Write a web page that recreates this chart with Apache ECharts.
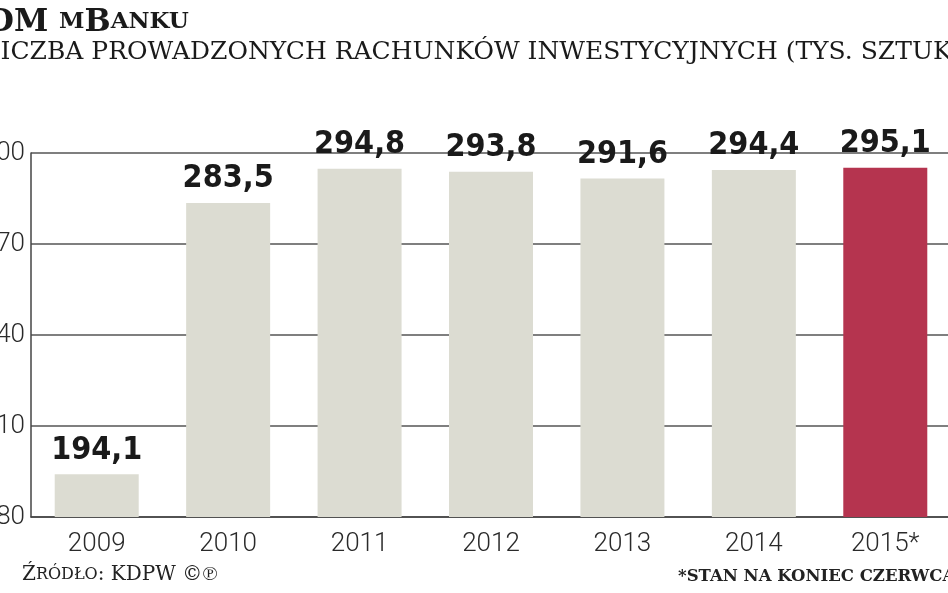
<!DOCTYPE html>
<html>
<head>
<meta charset="utf-8">
<script src="https://cdn.jsdelivr.net/npm/echarts@6/dist/echarts.min.js"></script>
<style>
html,body{margin:0;padding:0;background:#fff;}
#c{width:948px;height:593px;}
</style>
</head>
<body>
<div id="c"></div>
<script>
var categories = ['2009', '2010', '2011', '2012', '2013', '2014', '2015*'];
var values = [194.1, 283.5, 294.8, 293.8, 291.6, 294.4, 295.1];
var yTicks = [180, 210, 240, 270, 300];

var chart = echarts.init(document.getElementById('c'));
var numFont = '"DejaVu Sans Condensed", "DejaVu Sans", sans-serif';
var serifFont = '"DejaVu Serif", serif';

chart.setOption({
  backgroundColor: '#ffffff',
  animation: false,
  title: [{
    text: '{b|DM }{s|M}{b|B}{s|ANKU}',
    left: -18, top: 2,
    textStyle: {
      rich: {
        b: {fontFamily: serifFont, fontWeight: 'bold', fontSize: 31, color: '#1a1a1a'},
        s: {fontFamily: serifFont, fontWeight: 'bold', fontSize: 23, color: '#1a1a1a'}
      }
    }
  }, {
    text: 'LICZBA PROWADZONYCH RACHUNKÓW INWESTYCYJNYCH (TYS. SZTUK)',
    left: -21, top: 35,
    textStyle: {fontFamily: serifFont, fontWeight: 'normal', fontSize: 25, color: '#1a1a1a'}
  }],
  graphic: [{
    type: 'text', left: 22, top: 565,
    style: {
      text: '{b|Ź}{s|RÓDŁO}{b|: KDPW ©℗}',
      rich: {
        b: {fontFamily: serifFont, fontSize: 20, fill: '#222'},
        s: {fontFamily: serifFont, fontSize: 16, fill: '#222'}
      }
    }
  }, {
    type: 'text', left: 678, top: 568,
    style: {
      text: '*STAN NA KONIEC CZERWCA',
      fontFamily: serifFont, fontWeight: 'bold', fontSize: 16.5, fill: '#222'
    }
  }],
  grid: {left: 31, top: 153, width: 920, bottom: 76, containLabel: false, outerBoundsMode: 'none'},
  xAxis: {
    type: 'category',
    data: categories,
    axisLine: {show: true, lineStyle: {color: '#444', width: 1.5}},
    axisTick: {show: false},
    axisLabel: {fontFamily: 'Roboto', fontWeight: 300, fontSize: 26, color: '#2a2a2a', margin: 14}
  },
  yAxis: {
    type: 'value',
    min: yTicks[0], max: yTicks[yTicks.length - 1], interval: 30,
    axisLine: {show: true, lineStyle: {color: '#444', width: 1.5}},
    axisTick: {show: false},
    axisLabel: {fontFamily: 'Roboto', fontWeight: 300, fontSize: 26, color: '#2a2a2a', margin: 6},
    splitLine: {show: true, lineStyle: {color: '#555', width: 1.5}}
  },
  series: [{
    type: 'bar',
    barWidth: 84,
    data: values.map(function (v, i) {
      return {value: v, itemStyle: {color: i === values.length - 1 ? '#b5344f' : '#dcdcd2'}};
    }),
    label: {
      show: true, position: 'top', distance: 8,
      fontFamily: numFont, fontWeight: 'bold', fontSize: 32, color: '#1a1a1a',
      formatter: function (p) { return String(p.value.toFixed(1)).replace('.', ','); }
    }
  }]
});
</script>
</body>
</html>
